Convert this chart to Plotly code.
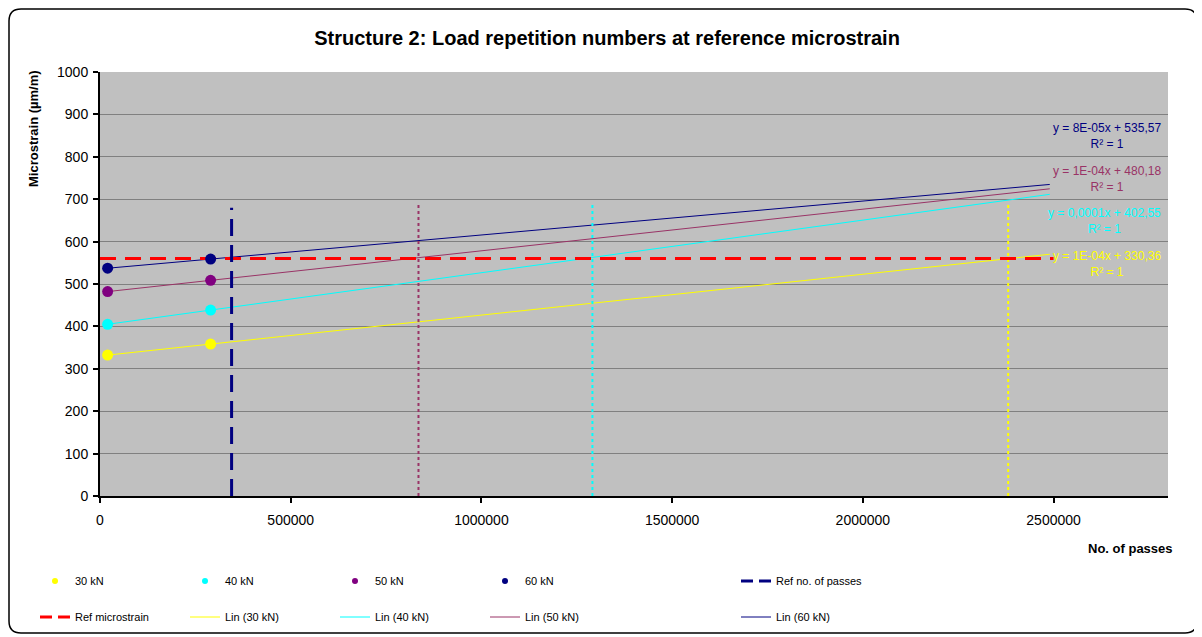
import numpy as np
import plotly.graph_objects as go

# ---------------- data ----------------
passes = [20000, 290000]
strain_30 = [332.3, 358.3]
strain_40 = [405.0, 438.5]
strain_50 = [482.1, 508.6]
strain_60 = [537.2, 558.8]
loads = ["30 kN", "40 kN", "50 kN", "60 kN"]
trend_forecast_end = 2490000

ref_microstrain = 560
ref_microstrain_x = [0, 2500000]
ref_passes = 345000
ref_passes_y = [0, 680]

intersect_passes = [2381000, 1291000, 835000]   # 30, 40, 50 kN
intersect_top = 690

equations = ["y = 1E-04x + 330,36", "y = 0,0001x + 402,55",
             "y = 1E-04x + 480,18", "y = 8E-05x + 535,57"]

x_ticks = [0, 500000, 1000000, 1500000, 2000000, 2500000]

# ---------------- styles ----------------
marker_colors = ["#FFFF00", "#00FFFF", "#800080", "#000080"]
trend_colors = ["#FFFF00", "#00FFFF", "#993366", "#000080"]
FONT = "Liberation Sans, Arial, sans-serif"

OFF = 8                      # page body margin
W, H = 1202 - OFF, 637 - OFF
ML, MT = 100 - OFF, 72 - OFF
MR = W - (1168 - OFF)
MB = H - (496 - OFF)
PW, PH = W - ML - MR, H - MT - MB


def px(x):   # reference-pixel x -> paper
    return (x - OFF - ML) / PW


def py(y):   # reference-pixel y -> paper
    return (H - MB - (y - OFF)) / PH


fig = go.Figure()

series = [strain_30, strain_40, strain_50, strain_60]

# trend lines (Lin)
x_tr = np.array([passes[0], trend_forecast_end])
for i, s in enumerate(series):
    k, b = np.polyfit(passes, s, 1)
    fig.add_trace(go.Scatter(
        x=x_tr, y=k * x_tr + b, mode="lines",
        line=dict(color=trend_colors[i], width=1),
        name=f"Lin ({loads[i]})", showlegend=False, hoverinfo="skip"))

# dotted verticals at intersections
for xv, c in zip(intersect_passes, ["#FFFF00", "#00FFFF", "#993366"]):
    fig.add_trace(go.Scatter(
        x=[xv, xv], y=[0, intersect_top], mode="lines",
        line=dict(color=c, width=2, dash="3px,3px"),
        showlegend=False, hoverinfo="skip"))

# ref microstrain
fig.add_trace(go.Scatter(
    x=ref_microstrain_x, y=[ref_microstrain] * 2, mode="lines",
    line=dict(color="#FF0000", width=3, dash="16px,9px"),
    name="Ref microstrain", showlegend=False))

# ref passes
fig.add_trace(go.Scatter(
    x=[ref_passes, ref_passes], y=ref_passes_y, mode="lines",
    line=dict(color="#000080", width=3, dash="17px,9px"),
    name="Ref no. of passes", showlegend=False))

# data markers
for i, s in enumerate(series):
    fig.add_trace(go.Scatter(
        x=passes, y=s, mode="markers",
        marker=dict(color=marker_colors[i], size=11),
        name=loads[i], showlegend=False))

# ----- legend entries -----
for i in range(4):
    fig.add_trace(go.Scatter(
        x=[None], y=[None], mode="markers",
        marker=dict(color=marker_colors[i], size=6),
        name=loads[i], legend="legend"))
fig.add_trace(go.Scatter(
    x=[None], y=[None], mode="lines",
    line=dict(color="#000080", width=3, dash="12px,6px"),
    name="Ref no. of passes", legend="legend3"))
fig.add_trace(go.Scatter(
    x=[None], y=[None], mode="lines",
    line=dict(color="#FF0000", width=3, dash="12px,6px"),
    name="Ref microstrain", legend="legend2"))
for i in range(4):
    fig.add_trace(go.Scatter(
        x=[None], y=[None], mode="lines",
        line=dict(color=trend_colors[i], width=1),
        name=f"Lin ({loads[i]})",
        legend="legend2" if i < 3 else "legend4"))

# equation annotations
eq_y = [264, 221, 179, 136]
ann = []
for i in range(4):
    ann.append(dict(
        x=px(1163), y=py(eq_y[i]), xref="paper", yref="paper",
        xanchor="right", yanchor="middle", align="center",
        text=equations[i] + "<br>R² = 1", showarrow=False,
        font=dict(family=FONT, size=12, color=trend_colors[i])))

ann.append(dict(x=px(33), y=py(129), xref="paper", yref="paper",
                text="<b>Microstrain (µm/m)</b>", textangle=-90,
                showarrow=False, xanchor="center", yanchor="middle",
                font=dict(family=FONT, size=13, color="black")))
ann.append(dict(x=px(1130), y=py(548), xref="paper", yref="paper",
                text="<b>No. of passes</b>", showarrow=False,
                xanchor="center", yanchor="middle",
                font=dict(family=FONT, size=13, color="black")))

# rounded border
L, R, T, B, r = 9, 1197, 9, 633, 12
path = (f"M {px(L+r)},{py(T)} L {px(R-r)},{py(T)} Q {px(R)},{py(T)} {px(R)},{py(T+r)} "
        f"L {px(R)},{py(B-r)} Q {px(R)},{py(B)} {px(R-r)},{py(B)} "
        f"L {px(L+r)},{py(B)} Q {px(L)},{py(B)} {px(L)},{py(B-r)} "
        f"L {px(L)},{py(T+r)} Q {px(L)},{py(T)} {px(L+r)},{py(T)} Z")

leg_common = dict(orientation="h", bgcolor="rgba(0,0,0,0)", yanchor="middle",
                  xanchor="left", font=dict(family=FONT, size=11, color="black"),
                  entrywidth=105, entrywidthmode="pixels")

fig.update_layout(
    width=W, height=H,
    margin=dict(l=ML, r=MR, t=MT, b=MB, autoexpand=False),
    paper_bgcolor="white", plot_bgcolor="#C0C0C0",
    font=dict(family=FONT, color="black"),
    title=dict(text="<b>Structure 2: Load repetition numbers at reference microstrain</b>",
               x=(607 - OFF) / W, xanchor="center", y=1 - (38 - OFF) / H, yanchor="middle",
               font=dict(family=FONT, size=20, color="black")),
    xaxis=dict(range=[0, 2800000], tickvals=x_ticks, tickformat="d",
               showgrid=False, zeroline=False, showline=True, linecolor="black",
               linewidth=2, ticks="outside", ticklen=5, tickwidth=2, tickcolor="black",
               ticklabelstandoff=5, automargin=False,
               tickfont=dict(family=FONT, size=14, color="black")),
    yaxis=dict(range=[0, 1000], dtick=100, showgrid=True, gridcolor="#808080",
               gridwidth=1, zeroline=False, showline=True, linecolor="black",
               linewidth=2, ticks="outside", ticklen=5, tickwidth=2, tickcolor="black",
               ticklabelstandoff=2, automargin=False,
               tickfont=dict(family=FONT, size=14, color="black")),
    legend=dict(x=px(35), y=py(581), **leg_common),
    legend2=dict(x=px(35), y=py(617), **leg_common),
    legend3=dict(x=px(736), y=py(581), **leg_common),
    legend4=dict(x=px(736), y=py(617), **leg_common),
    annotations=ann,
    shapes=[dict(type="path", path=path, xref="paper", yref="paper",
                 line=dict(color="black", width=1.5), layer="below")],
    hovermode=False,
)

fig.write_html("out.html")
